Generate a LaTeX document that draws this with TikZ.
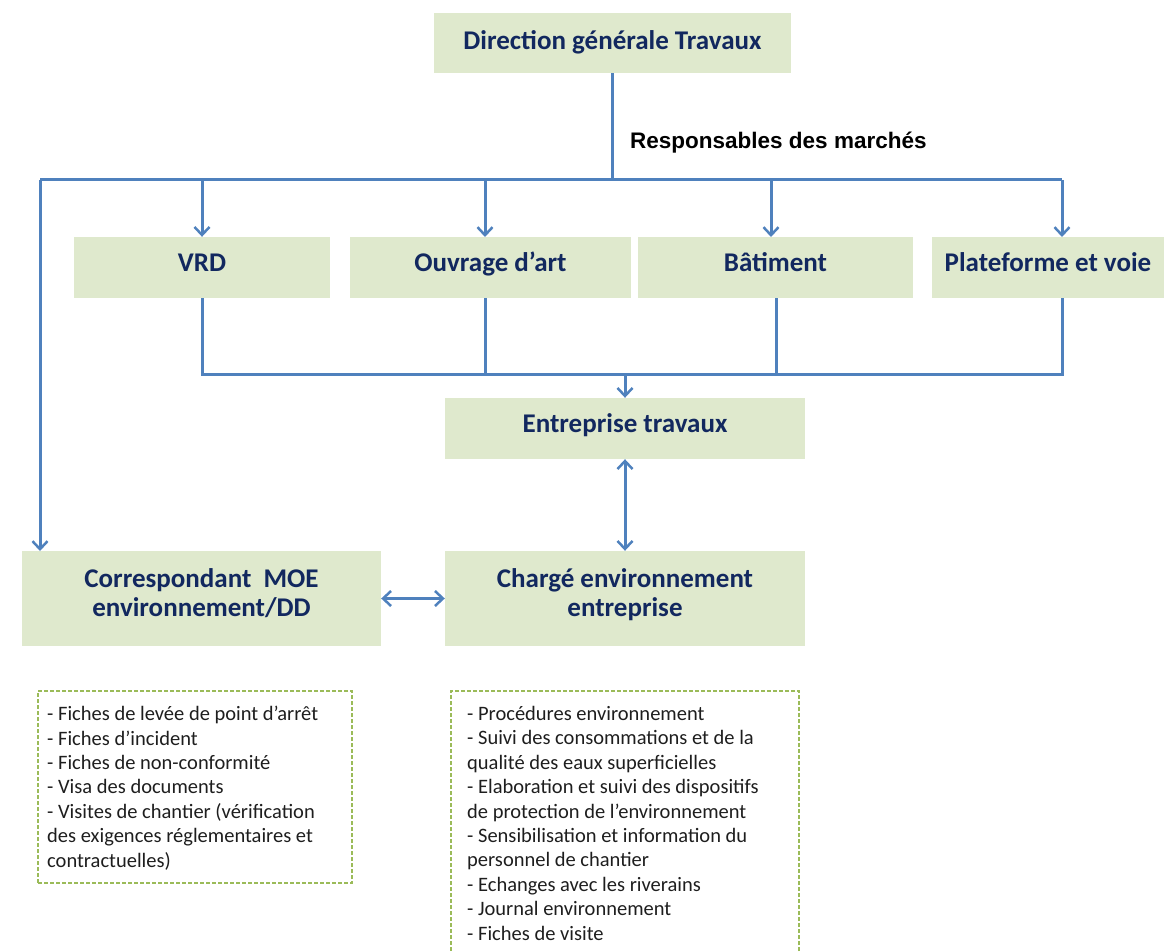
\documentclass[tikz,border=0pt]{standalone}
\usepackage{fontspec}
\setmainfont{Carlito}
\newfontfamily\arialfont{Liberation Sans}
\usetikzlibrary{arrows.meta}
\definecolor{boxfill}{RGB}{223,233,205}
\definecolor{boxtext}{RGB}{18,40,95}
\definecolor{linkblue}{RGB}{79,129,189}
\definecolor{dashgreen}{RGB}{155,187,89}
\definecolor{listtext}{RGB}{30,30,30}
\begin{document}
\begin{tikzpicture}[x=1pt,y=-1pt,
  basebox/.style={fill=boxfill, draw=none, inner sep=0pt, align=center,
    text=boxtext, font=\fontsize{27}{29}\selectfont\bfseries},
  unitbox/.style={basebox, text height=20pt, text depth=12pt},
  twobox/.style={basebox, text depth=12pt},
  link/.style={draw=linkblue, line width=3pt},
  arr/.style={link, -{Straight Barb[length=8pt,width=15pt,line width=2.5pt]}},
  darr/.style={link, {Straight Barb[length=8pt,width=15pt,line width=2.5pt]}-{Straight Barb[length=8pt,width=15pt,line width=2.5pt]}},
  listbox/.style={draw=dashgreen, dashed, dash pattern=on 4pt off 2pt, line width=2pt, inner sep=0pt},
  listtxt/.style={inner sep=0pt, align=left, text=listtext, anchor=north west,
    font=\fontsize{20.5}{24.4}\selectfont},
]
\useasboundingbox (0,0) rectangle (1164,952);

% boxes
\node[unitbox, text height=24pt, text depth=10pt, minimum width=357pt, minimum height=60pt] (dg) at (612.5,43) {Direction générale Travaux};
\node[unitbox, minimum width=256pt, minimum height=61pt] (vrd) at (202,267.5) {VRD};
\node[unitbox, minimum width=281pt, minimum height=61pt] (oa) at (490.5,267.5) {Ouvrage d’art};
\node[unitbox, minimum width=275pt, minimum height=61pt] (bat) at (775.5,267.5) {Bâtiment};
\node[unitbox, minimum width=232pt, minimum height=61pt] (pv) at (1048,267.5) {Plateforme et voie};
\node[unitbox, minimum width=360pt, minimum height=61pt] (ent) at (625,428.5) {Entreprise travaux};
\node[twobox, minimum width=359pt, minimum height=95pt] (cor) at (201.5,598.5) {Correspondant \ MOE\\environnement/DD};
\node[twobox, minimum width=360pt, minimum height=95pt] (chg) at (625,598.5) {Chargé environnement\\entreprise};

% label
\node[inner sep=0pt, anchor=west, font=\arialfont\fontsize{22.5}{26}\selectfont\bfseries] (resp) at (630,143) {Responsables des marchés};

% top distribution
\coordinate (jtop) at (612,180);
\coordinate (jleft) at (40,180);
\coordinate (jright) at (1062,180);
\draw[link] (dg.south -| jtop) -- (jtop);
\draw[link] (jleft) -- (jright);
\draw[arr] (jleft) -- (40,551) coordinate (corin);
\draw[arr] (vrd.north |- jtop) -- (vrd.north);
\draw[arr] (485,180) -- (485,237);
\draw[arr] (771,180) -- (771,237);
\draw[arr] (jright) -- (1062,237);

% bottom collection
\coordinate (bl) at (202,374);
\coordinate (br) at (1062,374);
\draw[link] (vrd.south) -- (bl) -- (br) -- (1062,298);
\draw[link] (485,298) -- (485,374);
\draw[link] (776,298) -- (776,374);
\draw[arr] (625,374) -- (ent.north);

% double arrows
\draw[darr] (ent.south) -- (chg.north);
\draw[darr] (cor.east) -- (chg.west);

% lists
\node[listbox, minimum width=314pt, minimum height=192pt] (l1) at (195,787) {};
\node[listbox, minimum width=348pt, minimum height=290pt] (l2) at (625,836) {};
\node[listtxt] (t1) at (47,706) {- Fiches de levée de point d’arrêt\\- Fiches d’incident\\- Fiches de non-conformité\\- Visa des documents\\- Visites de chantier (vérification\\des exigences réglementaires et\\contractuelles)};
\node[listtxt] (t2) at (467,706) {- Procédures environnement\\- Suivi des consommations et de la\\qualité des eaux superficielles\\- Elaboration et suivi des dispositifs\\de protection de l’environnement\\- Sensibilisation et information du\\personnel de chantier\\- Echanges avec les riverains\\- Journal environnement\\- Fiches de visite};
\end{tikzpicture}
\end{document}
